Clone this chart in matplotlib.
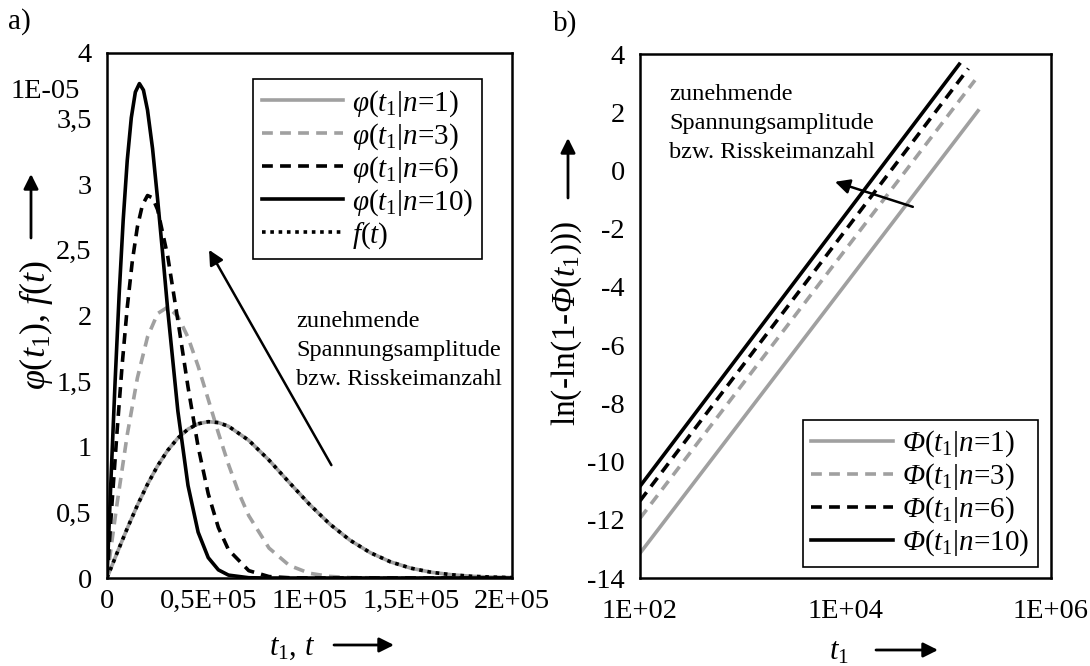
import matplotlib.pyplot as plt
from matplotlib.patches import FancyArrowPatch

plt.rcParams['font.family'] = 'Liberation Serif'
plt.rcParams['mathtext.fontset'] = 'custom'
plt.rcParams['mathtext.rm'] = 'Liberation Serif'
plt.rcParams['mathtext.it'] = 'Liberation Serif:italic'
plt.rcParams['mathtext.bf'] = 'Liberation Serif:bold'
# italic capital Phi (mathtext forces Greek capitals upright in \mathit)
plt.rcParams['mathtext.sf'] = 'Liberation Serif:italic'
plt.rcParams['axes.unicode_minus'] = False

# a) densities phi(t1|n) and f(t); values in units of 1E-05
t_n1 = [0, 5e3, 10e3, 15e3, 20e3, 25e3, 30e3, 35e3, 40e3, 45e3, 50e3, 55e3, 60e3,
        70e3, 80e3, 90e3, 100e3, 110e3, 120e3, 130e3, 140e3, 150e3, 160e3, 170e3,
        180e3, 190e3, 200e3]
phi_n1 = [0, 0.192, 0.378, 0.554, 0.714, 0.855, 0.973, 1.066, 1.134, 1.175, 1.191,
          1.184, 1.156, 1.049, 0.898, 0.728, 0.561, 0.411, 0.288, 0.193, 0.123,
          0.075, 0.044, 0.025, 0.013, 0.007, 0.003]

t_n3 = [0, 2.5e3, 5e3, 10e3, 15e3, 20e3, 25e3, 30e3, 35e3, 40e3, 45e3, 50e3, 55e3,
        60e3, 65e3, 70e3, 80e3, 90e3, 100e3, 110e3, 120e3, 140e3, 200e3]
phi_n3 = [0, 0.288, 0.570, 1.092, 1.524, 1.836, 2.015, 2.064, 1.994, 1.834, 1.614,
          1.361, 1.105, 0.865, 0.651, 0.475, 0.228, 0.096, 0.036, 0.012, 0.003, 0, 0]

t_n6 = [0, 2.5e3, 5e3, 7.5e3, 10e3, 12.5e3, 15e3, 17.5e3, 20e3, 22.5e3, 25e3, 30e3,
        35e3, 40e3, 45e3, 50e3, 55e3, 60e3, 70e3, 80e3, 90e3, 100e3, 200e3]
phi_n6 = [0, 0.575, 1.124, 1.627, 2.062, 2.414, 2.675, 2.842, 2.914, 2.897, 2.806,
          2.450, 1.962, 1.456, 1.000, 0.641, 0.384, 0.215, 0.056, 0.011, 0.002, 0, 0]

t_n10 = [0, 2e3, 4e3, 6e3, 8e3, 10e3, 12e3, 14e3, 16e3, 18e3, 20e3, 22.5e3, 25e3,
         27.5e3, 30e3, 35e3, 40e3, 45e3, 50e3, 55e3, 60e3, 70e3, 80e3, 200e3]
phi_n10 = [0, 0.766, 1.496, 2.160, 2.728, 3.182, 3.507, 3.702, 3.767, 3.717, 3.566,
           3.271, 2.884, 2.470, 2.040, 1.271, 0.705, 0.349, 0.155, 0.062, 0.022,
           0.002, 0, 0]

t_f = t_n1
f_vals = phi_n1

xticks_a = [0, 0.5e5, 1e5, 1.5e5, 2e5]
xticklabels_a = ['0', '0,5E+05', '1E+05', '1,5E+05', '2E+05']
yticks_a = [0, 0.5, 1, 1.5, 2, 2.5, 3, 3.5, 4]
yticklabels_a = ['0', '0,5', '1', '1,5', '2', '2,5', '3', '3,5', '4']

# b) Weibull plot, straight lines between first and last t1
n_values = [1, 3, 6, 10]
t1_start = [1e2, 1e2, 1e2, 1e2]
t1_end = [1.95e5, 1.82e5, 1.57e5, 1.28e5]
lnln_start = [-13.15, -11.95, -11.35, -10.85]
lnln_end = [2.05, 3.1, 3.5, 3.65]

xticks_b = [1e2, 1e4, 1e6]
xticklabels_b = ['1E+02', '1E+04', '1E+06']
yticks_b = [-14, -12, -10, -8, -6, -4, -2, 0, 2, 4]

GRAY = '#a0a0a0'
LW = 2.6
styles = {
    1: dict(color=GRAY, ls='-'),
    3: dict(color=GRAY, ls=(0, (3, 2))),
    6: dict(color='black', ls=(0, (3, 2))),
    10: dict(color='black', ls='-'),
}
TICK_FS = 20.5
NOTE = 'zunehmende\nSpannungsamplitude\nbzw. Risskeimanzahl'

W, H = 1090, 666
fig = plt.figure(figsize=(W / 100, H / 100), dpi=100)


def px_axes(x0, y0, x1, y1):
    return fig.add_axes([x0 / W, 1 - y1 / H, (x1 - x0) / W, (y1 - y0) / H])


def fig_text(x, y, s, **kw):
    fig.text(x / W, 1 - y / H, s, **kw)


def fig_arrow(x0, y0, x1, y1):
    fig.add_artist(FancyArrowPatch(
        (x0 / W, 1 - y0 / H), (x1 / W, 1 - y1 / H), transform=fig.transFigure,
        arrowstyle='-|>', mutation_scale=22, lw=2, color='black',
        shrinkA=0, shrinkB=0))


def style_axes(a, xpad):
    a.tick_params(length=0, labelsize=TICK_FS)
    a.tick_params(axis='y', pad=11)
    a.tick_params(axis='x', pad=xpad)
    for s in a.spines.values():
        s.set_linewidth(1.8)


def add_legend(a, loc, anchor):
    leg = a.legend(loc=loc, bbox_to_anchor=anchor, borderaxespad=0,
                   fontsize=21, handlelength=2.8, handletextpad=0.3,
                   labelspacing=0.08, borderpad=0.3, fancybox=False,
                   framealpha=1, edgecolor='black')
    leg.get_frame().set_linewidth(1.2)


def trend_arrow(a, tip, tail):
    a.annotate('', xy=tip, xytext=tail,
               arrowprops=dict(arrowstyle='-|>', lw=1.8, color='black',
                               mutation_scale=22, shrinkA=0, shrinkB=0))


# ---- a) ----
ax = px_axes(107, 53, 512, 578)
ax.plot(t_n1, phi_n1, lw=LW, **styles[1], label=r'$\varphi(t_1|n$=1)')
ax.plot(t_n3, phi_n3, lw=LW, **styles[3], label=r'$\varphi(t_1|n$=3)')
ax.plot(t_n6, phi_n6, lw=LW, **styles[6], label=r'$\varphi(t_1|n$=6)')
ax.plot(t_n10, phi_n10, lw=LW, **styles[10], label=r'$\varphi(t_1|n$=10)')
ax.plot(t_f, f_vals, lw=LW, color='black', ls=(0, (1, 1.3)), label=r'$f(t)$')
ax.set_xlim(0, 2e5)
ax.set_ylim(0, 4)
ax.set_xticks(xticks_a)
ax.set_xticklabels(xticklabels_a)
ax.set_yticks(yticks_a)
ax.set_yticklabels(yticklabels_a)
style_axes(ax, 8)
add_legend(ax, 'upper left', (0.36, 0.95))
trend_arrow(ax, (0.504e5, 2.5), (1.108e5, 0.86))
fig_text(296, 311, NOTE, fontsize=17.6, va='top', ha='left', linespacing=1.5)

fig_text(8, 22, 'a)', fontsize=21, va='center', ha='left')
fig_text(11, 91, '1E-05', fontsize=TICK_FS, va='center', ha='left')
fig_text(36, 325, r'$\varphi(t_1)$, $f(t)$', fontsize=26, rotation=90,
         va='center', ha='center')
fig_arrow(31, 238, 31, 174)
fig_text(292, 648, r'$t_1$, $t$', fontsize=22, va='center', ha='center')
fig_arrow(334, 645, 394, 645)

# ---- b) ----
bx = px_axes(640, 54, 1051, 578)
for n, ts, te, ys, ye in zip(n_values, t1_start, t1_end, lnln_start, lnln_end):
    bx.plot([ts, te], [ys, ye], lw=LW, **styles[n],
            label=r'$\mathsf{\Phi}(t_1|n$=%d)' % n)
bx.set_xscale('log')
bx.set_xlim(1e2, 1e6)
bx.set_ylim(-14, 4)
bx.set_xticks(xticks_b)
bx.set_xticklabels(xticklabels_b)
bx.minorticks_off()
bx.set_yticks(yticks_b)
style_axes(bx, 15)
add_legend(bx, 'lower right', (0.968, 0.021))
trend_arrow(bx, (7.9e3, -0.39), (4.52e4, -1.25))
fig_text(669, 84, NOTE, fontsize=17.6, va='top', ha='left', linespacing=1.5)

fig_text(553, 24, 'b)', fontsize=21, va='center', ha='left')
fig_text(567, 323, r'ln(-ln(1-$\mathsf{\Phi}$($t_1$)))', fontsize=24,
         rotation=90, va='center', ha='center')
fig_arrow(568, 198, 568, 138)
fig_text(839, 652, r'$t_1$', fontsize=22, va='center', ha='center')
fig_arrow(876, 650, 938, 650)

fig.savefig('out.png', dpi=100)
